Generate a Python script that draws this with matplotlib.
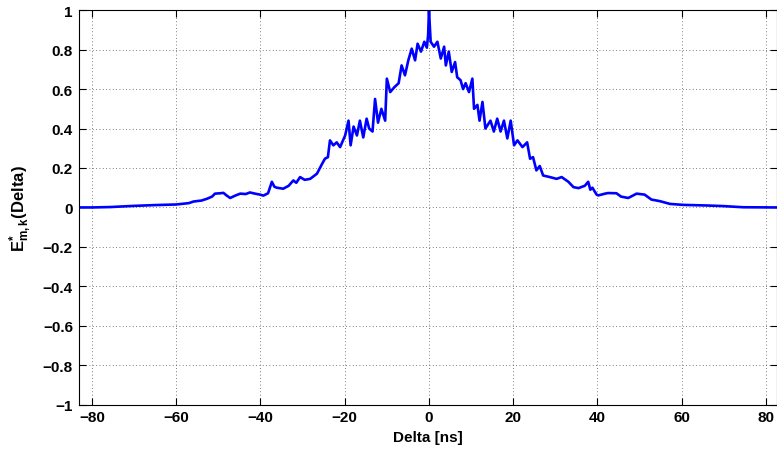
import matplotlib
matplotlib.use("Agg")
import matplotlib.pyplot as plt

# values (Delta in ns, E*)
delta = [-83.2, -80, -75.7, -70, -65, -60, -57, -55.9, -54, -52.7, -51.5, -50.8,
         -49.5, -48.8, -48, -47.2, -46, -44.8, -43.5, -42.5, -41.3, -40.1, -39.3,
         -38.2, -37.3, -36.7, -36.1, -34.6, -33.3, -32.2, -31.5, -30.6, -29.5,
         -28.2, -27.3, -26.6, -25.4, -24.7, -24.0,
         -23.5, -22.7, -21.9, -21.1, -19.9, -19.1, -18.6, -17.9, -17.1, -16.4,
         -15.6, -14.8, -14.2, -13.4, -12.8, -12.1, -11.3, -10.4, -10.0, -9.2,
         -8.2, -7.2, -6.5, -5.7, -4.9, -4.1, -3.3, -2.7, -1.9, -1.1, -0.5, -0.2,
         0.0, 0.4, 1.2, 2.0, 2.8, 3.6, 4.0, 4.7, 5.4, 6.2, 6.7, 7.5, 8.1, 8.7,
         9.5, 10.3, 10.7, 11.5, 12.0, 12.7, 13.4, 14.6, 15.4, 16.2, 17.0, 17.8,
         18.6, 19.4, 20.2, 21.0, 22.2, 23.3,
         24.0, 24.7, 25.5, 26.3, 27.1, 28.7, 30.3, 31.5, 33.1, 34.3, 35.5, 37.0,
         37.8, 38.3, 38.8, 39.8, 40.2, 41.8, 42.5, 44.5, 45.6, 47.3, 49.3, 51.2,
         52.8, 54.8, 57.2, 60.3, 65.9, 69.8, 74.6, 82.5]
energy = [0.0, 0.0, 0.002, 0.008, 0.012, 0.015, 0.022, 0.03, 0.035, 0.044, 0.055, 0.07,
          0.072, 0.074, 0.06, 0.048, 0.06, 0.07, 0.068, 0.076, 0.07, 0.065, 0.06,
          0.072, 0.13, 0.105, 0.10, 0.095, 0.11, 0.137, 0.125, 0.154, 0.14,
          0.145, 0.16, 0.171, 0.22, 0.247, 0.255,
          0.34, 0.315, 0.33, 0.306, 0.365, 0.44, 0.315, 0.41, 0.365, 0.44,
          0.355, 0.45, 0.40, 0.385, 0.55, 0.43, 0.50, 0.44, 0.653, 0.585,
          0.61, 0.63, 0.72, 0.67, 0.746, 0.805, 0.746, 0.83, 0.79, 0.84, 0.81, 0.875,
          1.0, 0.84, 0.815, 0.84, 0.755, 0.815, 0.72, 0.79, 0.687, 0.737, 0.66, 0.645, 0.60, 0.63,
          0.585, 0.653, 0.50, 0.52, 0.44, 0.535, 0.40, 0.44, 0.385, 0.45, 0.385, 0.44,
          0.35, 0.44, 0.315, 0.34, 0.306, 0.33,
          0.247, 0.255, 0.188, 0.21, 0.162, 0.154, 0.145, 0.154, 0.13, 0.103, 0.098, 0.11,
          0.13, 0.09, 0.10, 0.065, 0.061, 0.07, 0.073, 0.072, 0.055, 0.048, 0.07, 0.065,
          0.04, 0.032, 0.018, 0.013, 0.01, 0.007, 0.001, 0.0]

xticks = [-80, -60, -40, -20, 0, 20, 40, 60, 80]
yticks = [-1, -0.8, -0.6, -0.4, -0.2, 0, 0.2, 0.4, 0.6, 0.8, 1]
ytick_labels = ["\u22121", "\u22120.8", "\u22120.6", "\u22120.4", "\u22120.2", "0",
                "0.2", "0.4", "0.6", "0.8", "1"]

plt.rcParams['font.family'] = ['Liberation Sans', 'DejaVu Sans']
plt.rcParams['font.weight'] = 'bold'
plt.rcParams['mathtext.fontset'] = 'custom'
plt.rcParams['mathtext.rm'] = 'Liberation Sans:bold'
plt.rcParams['mathtext.bf'] = 'Liberation Sans:bold'
plt.rcParams['mathtext.it'] = 'Liberation Sans:bold'

fig = plt.figure(figsize=(7.77, 4.52), dpi=100)
ax = fig.add_axes([78.5 / 777, (452 - 405.7) / 452, (776.5 - 78.5) / 777, (405.7 - 11.2) / 452])

ax.plot(delta, energy, color=(0, 0, 1), lw=1.9)

ax.set_xlim(-83.2, 82.5)
ax.set_ylim(-1, 1)
ax.set_xticks(xticks)
ax.set_xticklabels([str(t).replace('-', '\u2212') for t in xticks])
ax.set_yticks(yticks)
ax.set_yticklabels(ytick_labels)
ax.tick_params(direction='in', top=True, right=True, length=5, width=0.8,
               labelsize=11, pad=4)
ax.grid(True, color='#555555', linestyle=(0, (1, 3)), lw=0.6)
for s in ax.spines.values():
    s.set_linewidth(0.8)

ax.set_xlabel('Delta [ns]', fontsize=11, fontweight='bold', labelpad=4)
ax.set_ylabel(r'E$^{*}_{m,k}$(Delta)', fontsize=12, fontweight='bold', labelpad=6)

fig.savefig('out.png', dpi=100)
